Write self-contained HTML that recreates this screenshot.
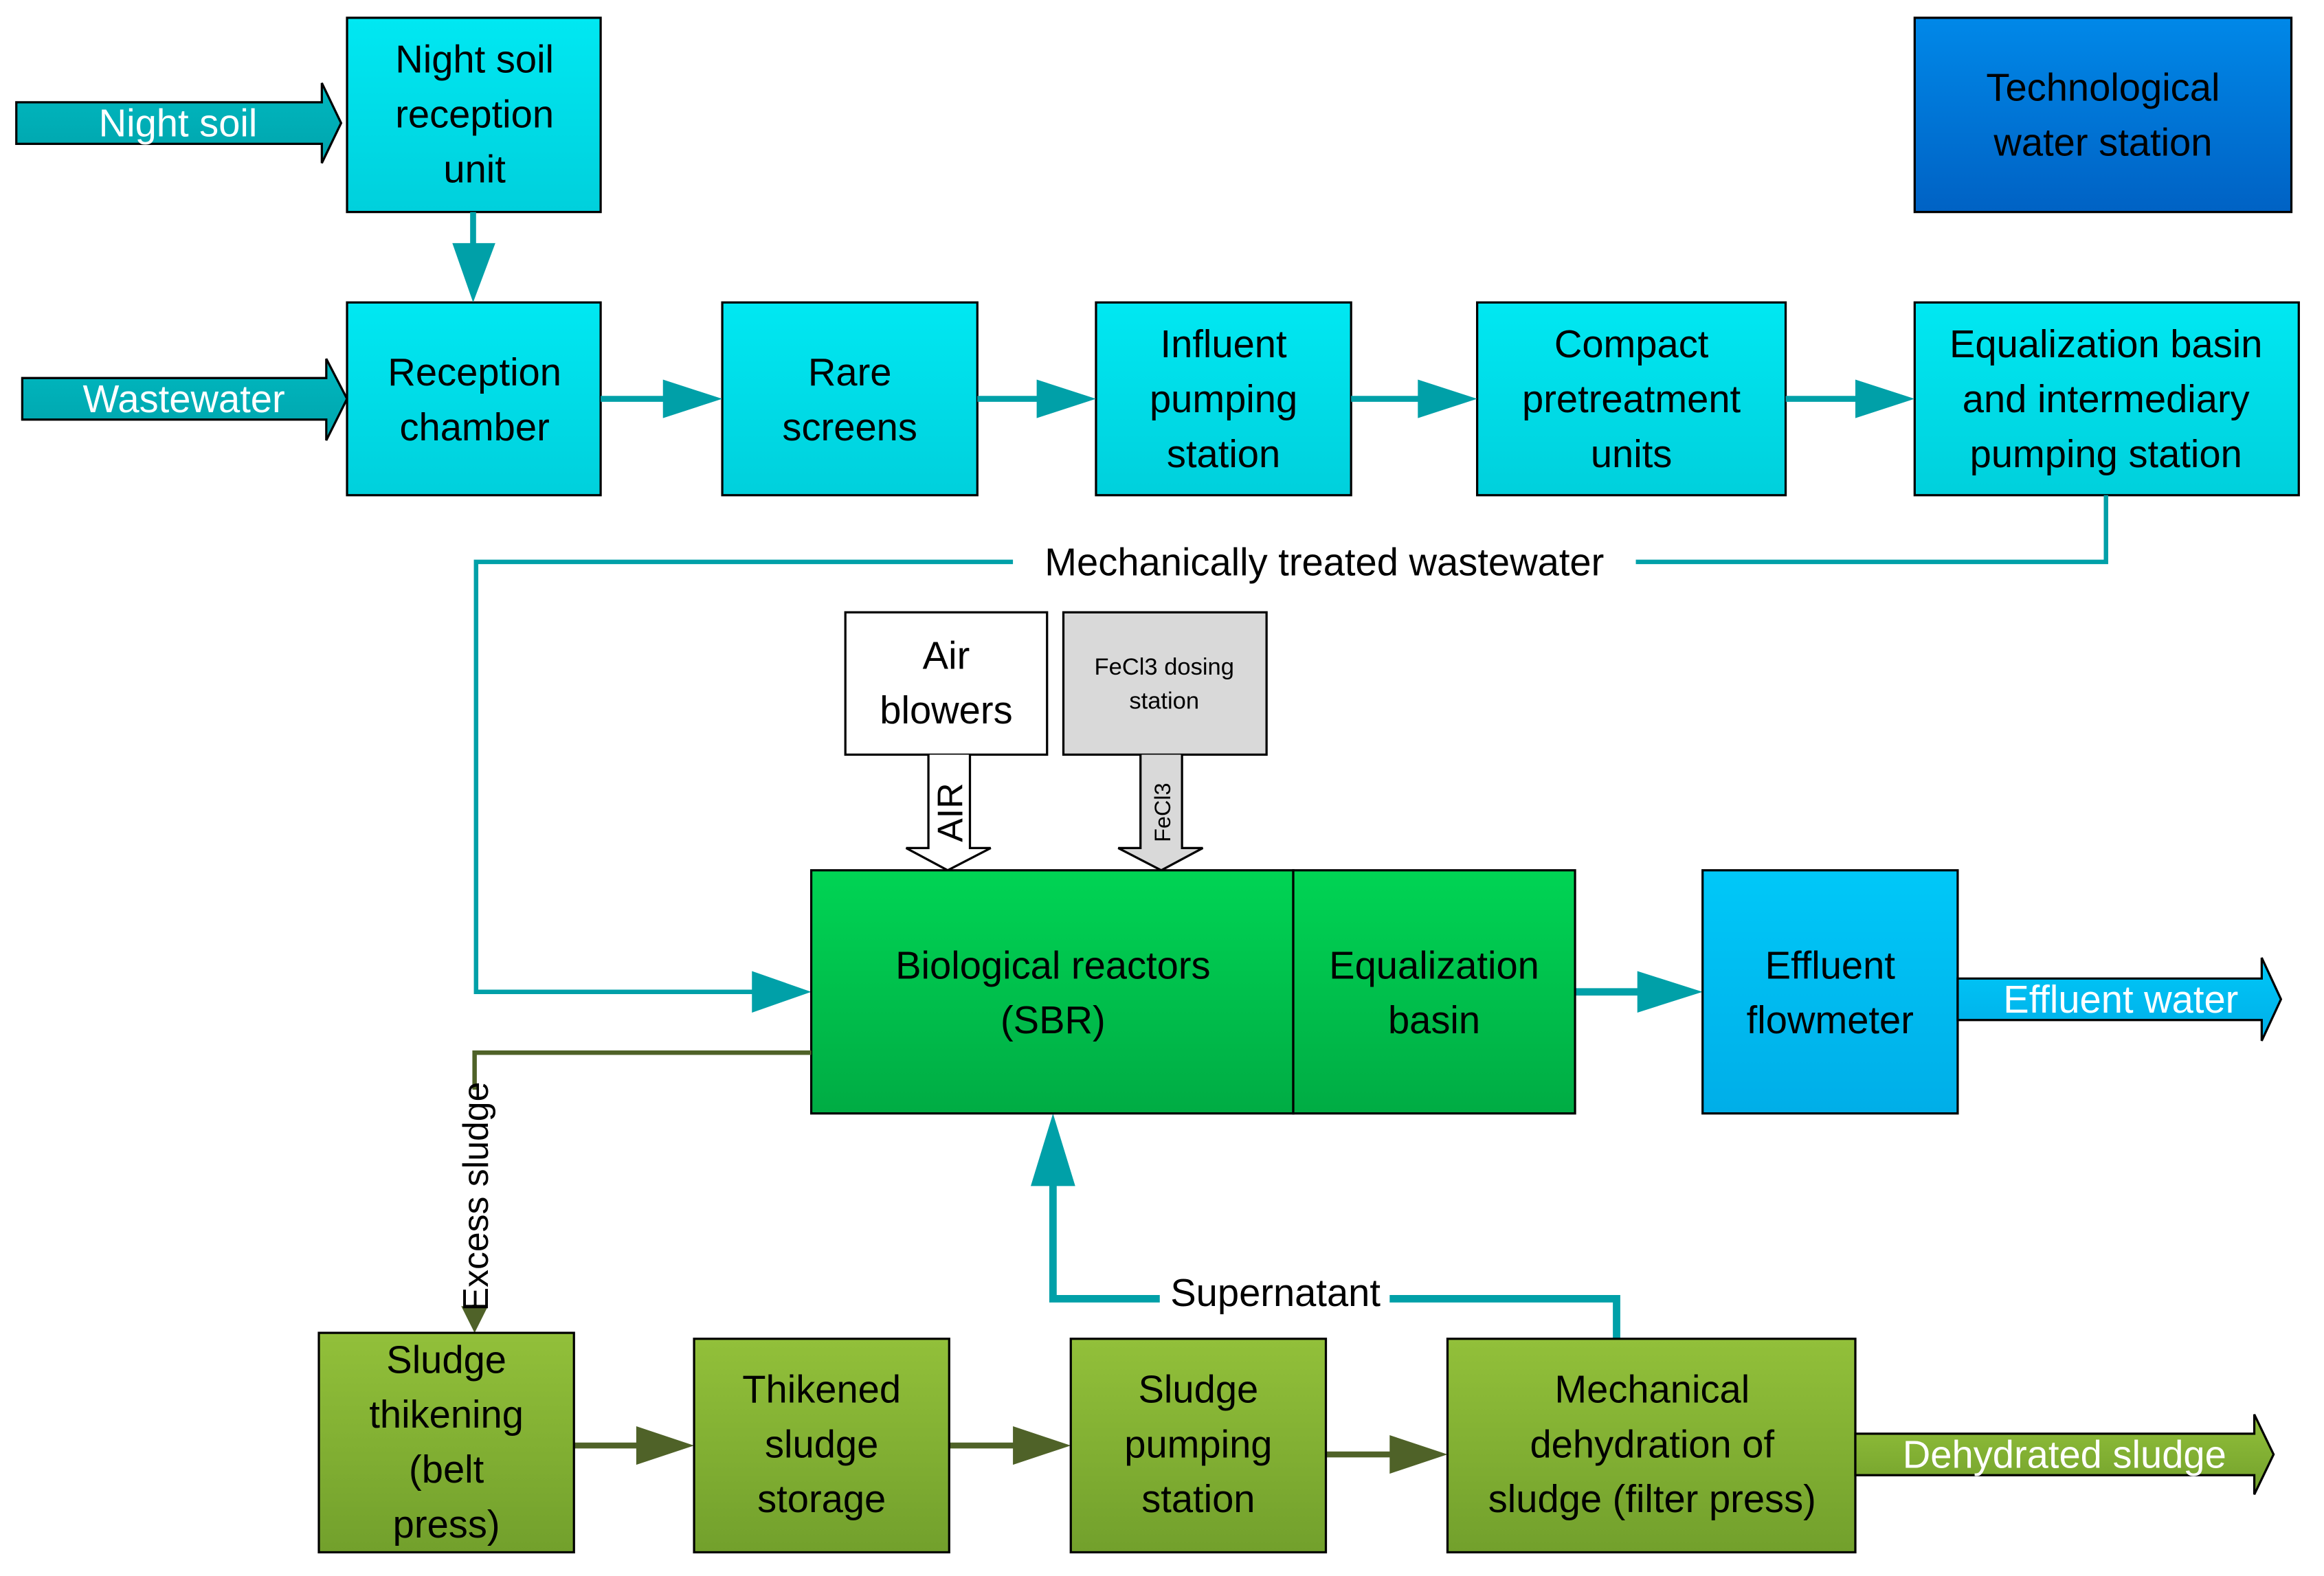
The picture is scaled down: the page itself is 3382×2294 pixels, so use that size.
<!DOCTYPE html>
<html><head><meta charset="utf-8"><style>
html,body{margin:0;padding:0;background:#fff}
svg{display:block}
text{font-family:"Liberation Sans",sans-serif}
</style></head><body>
<svg width="3382" height="2294" viewBox="0 0 1567 1063" preserveAspectRatio="none" xmlns="http://www.w3.org/2000/svg">
<defs>
<linearGradient id="cy" x1="0" y1="0" x2="0" y2="1"><stop offset="0" stop-color="#00e8f2"/><stop offset="1" stop-color="#00d0dc"/></linearGradient>
<linearGradient id="tl" x1="0" y1="0" x2="0" y2="1"><stop offset="0" stop-color="#00b8c0"/><stop offset="1" stop-color="#00a4ac"/></linearGradient>
<linearGradient id="bl" x1="0" y1="0" x2="0" y2="1"><stop offset="0" stop-color="#0088e8"/><stop offset="1" stop-color="#0062c4"/></linearGradient>
<linearGradient id="gr" x1="0" y1="0" x2="0" y2="1"><stop offset="0" stop-color="#00d454"/><stop offset="1" stop-color="#00ac44"/></linearGradient>
<linearGradient id="ol" x1="0" y1="0" x2="0" y2="1"><stop offset="0" stop-color="#92c03a"/><stop offset="1" stop-color="#72a02c"/></linearGradient>
<linearGradient id="eb" x1="0" y1="0" x2="0" y2="1"><stop offset="0" stop-color="#00c8f8"/><stop offset="1" stop-color="#00aee8"/></linearGradient>
</defs>
<g font-size="26" text-anchor="middle" stroke-linejoin="miter">
<path d="M11,69 H217 V56 L230,83 L217,110 V97 H11 Z" fill="url(#tl)" stroke="#000" stroke-width="1.5"/>
<text x="120" y="92" fill="#fff">Night soil</text>
<path d="M15,255 H220 V242 L234,269 L220,297 V283 H15 Z" fill="url(#tl)" stroke="#000" stroke-width="1.5"/>
<text x="124" y="278" fill="#fff">Wastewater</text>
<g stroke="#000" stroke-width="1.5">
<rect x="234" y="12" width="171" height="131" fill="url(#cy)"/>
<rect x="234" y="204" width="171" height="130" fill="url(#cy)"/>
<rect x="487" y="204" width="172" height="130" fill="url(#cy)"/>
<rect x="739" y="204" width="172" height="130" fill="url(#cy)"/>
<rect x="996" y="204" width="208" height="130" fill="url(#cy)"/>
<rect x="1291" y="204" width="259" height="130" fill="url(#cy)"/>
<rect x="1291" y="12" width="254" height="131" fill="url(#bl)"/>
</g>
<text x="320" y="49">Night soil</text><text x="320" y="86">reception</text><text x="320" y="123">unit</text>
<text x="320" y="260">Reception</text><text x="320" y="297">chamber</text>
<text x="573" y="260">Rare</text><text x="573" y="297">screens</text>
<text x="825" y="241">Influent</text><text x="825" y="278">pumping</text><text x="825" y="315">station</text>
<text x="1100" y="241">Compact</text><text x="1100" y="278">pretreatment</text><text x="1100" y="315">units</text>
<text x="1420" y="241">Equalization basin</text><text x="1420" y="278">and intermediary</text><text x="1420" y="315">pumping station</text>
<text x="1418" y="68">Technological</text><text x="1418" y="105">water station</text>
<g fill="#00a0a8" stroke="#00a0a8">
<line x1="319" y1="143" x2="319" y2="166" stroke-width="4"/><path d="M305,164 H334 L319,204 Z" stroke="none"/>
<line x1="405" y1="269" x2="450" y2="269" stroke-width="4"/><path d="M447,256 L487,269 L447,282 Z" stroke="none"/>
<line x1="659" y1="269" x2="702" y2="269" stroke-width="4"/><path d="M699,256 L739,269 L699,282 Z" stroke="none"/>
<line x1="911" y1="269" x2="959" y2="269" stroke-width="4"/><path d="M956,256 L996,269 L956,282 Z" stroke="none"/>
<line x1="1204" y1="269" x2="1254" y2="269" stroke-width="4"/><path d="M1251,256 L1291,269 L1251,282 Z" stroke="none"/>
<polyline points="1420,334 1420,379 321,379 321,669 510,669" fill="none" stroke-width="3"/>
<path d="M507,655 L547,669 L507,683 Z" stroke="none"/>
<polyline points="1090,903 1090,876 710,876 710,795" fill="none" stroke-width="5"/>
<path d="M695,800 L710,751 L725,800 Z" stroke="none"/>
<line x1="1062" y1="669" x2="1108" y2="669" stroke-width="5"/><path d="M1104,655 L1148,669 L1104,683 Z" stroke="none"/>
</g>
<rect x="683" y="364" width="420" height="30" fill="#fff"/>
<text x="893" y="388">Mechanically treated wastewater</text>
<rect x="782" y="858" width="155" height="30" fill="#fff"/>
<text x="860" y="881">Supernatant</text>
<rect x="570" y="413" width="136" height="96" fill="#fff" stroke="#000" stroke-width="1.5"/>
<text x="638" y="451">Air</text><text x="638" y="488">blowers</text>
<rect x="717" y="413" width="137" height="96" fill="#d9d9d9" stroke="#000" stroke-width="1.5"/>
<text x="785" y="455" font-size="16">FeCl3 dosing</text><text x="785" y="478" font-size="16">station</text>
<path d="M626,509 V572 H611 L639,587 L668,572 H654 V509" fill="#fff" stroke="#000" stroke-width="1.5"/>
<text transform="translate(649,548) rotate(-90)" font-size="24">AIR</text>
<path d="M769,509 V572 H754 L783,587 L811,572 H797 V509" fill="#d9d9d9" stroke="#000" stroke-width="1.5"/>
<text transform="translate(789,548) rotate(-90)" font-size="15">FeCl3</text>
<g stroke="#000" stroke-width="1.5">
<rect x="547" y="587" width="325" height="164" fill="url(#gr)"/>
<rect x="872" y="587" width="190" height="164" fill="url(#gr)"/>
<rect x="1148" y="587" width="172" height="164" fill="url(#eb)"/>
</g>
<text x="710" y="660">Biological reactors</text><text x="710" y="697">(SBR)</text>
<text x="967" y="660">Equalization</text><text x="967" y="697">basin</text>
<text x="1234" y="660">Effluent</text><text x="1234" y="697">flowmeter</text>
<path d="M1320,660 H1525 V646 L1538,674 L1525,702 V688 H1320 Z" fill="url(#eb)" stroke="#000" stroke-width="1.5"/>
<text x="1430" y="683" fill="#fff">Effluent water</text>
<g fill="#4f6228" stroke="#4f6228">
<polyline points="547,710 320,710 320,884" fill="none" stroke-width="3"/>
<path d="M311,881 L320,899 L329,881 Z" stroke="none"/>
<line x1="387" y1="975" x2="432" y2="975" stroke-width="4"/><path d="M429,962 L468,975 L429,988 Z" stroke="none"/>
<line x1="640" y1="975" x2="686" y2="975" stroke-width="4"/><path d="M683,962 L722,975 L683,988 Z" stroke="none"/>
<line x1="894" y1="981" x2="940" y2="981" stroke-width="4"/><path d="M937,968 L976,981 L937,994 Z" stroke="none"/>
</g>
<rect x="308" y="735" width="24" height="145" fill="#fff"/>
<text transform="translate(329,807) rotate(-90)" font-size="24">Excess sludge</text>
<g stroke="#000" stroke-width="1.5">
<rect x="215" y="899" width="172" height="148" fill="url(#ol)"/>
<rect x="468" y="903" width="172" height="144" fill="url(#ol)"/>
<rect x="722" y="903" width="172" height="144" fill="url(#ol)"/>
<rect x="976" y="903" width="275" height="144" fill="url(#ol)"/>
</g>
<text x="301" y="926">Sludge</text><text x="301" y="963">thikening</text><text x="301" y="1000">(belt</text><text x="301" y="1037">press)</text>
<text x="554" y="946">Thikened</text><text x="554" y="983">sludge</text><text x="554" y="1020">storage</text>
<text x="808" y="946">Sludge</text><text x="808" y="983">pumping</text><text x="808" y="1020">station</text>
<text x="1114" y="946">Mechanical</text><text x="1114" y="983">dehydration of</text><text x="1114" y="1020">sludge (filter press)</text>
<path d="M1251,967 H1520 V954 L1533,981 L1520,1008 V995 H1251 Z" fill="url(#ol)" stroke="#000" stroke-width="1.5"/>
<text x="1392" y="990" fill="#fff">Dehydrated sludge</text>
</g>
</svg>
</body></html>
